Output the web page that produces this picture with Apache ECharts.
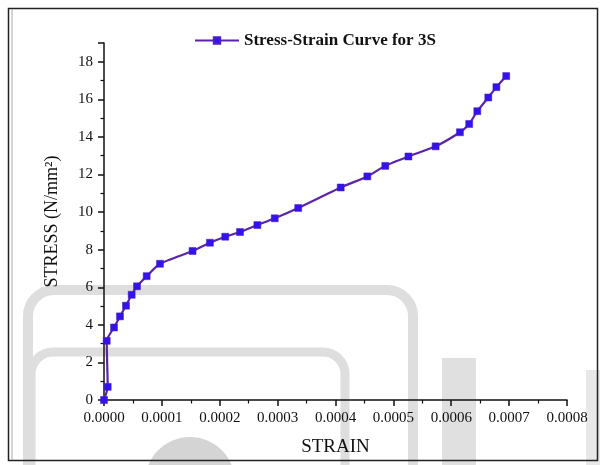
<!DOCTYPE html>
<html>
<head>
<meta charset="utf-8">
<script src="https://cdn.jsdelivr.net/npm/echarts@6/dist/echarts.min.js"></script>
<style>html,body{margin:0;padding:0;background:#fff}#c{width:603px;height:465px}</style>
</head>
<body>
<div id="c"></div>
<script>
// ---- data ----
var seriesName = 'Stress-Strain Curve for 3S';
var strain = [0, 0.0000064, 0.0000047, 0.0000173, 0.0000276, 0.000038, 0.0000478, 0.000057, 0.0000737, 0.0000967,
  0.000153, 0.000183, 0.0002095, 0.000235, 0.000265, 0.000295, 0.0003356, 0.000409, 0.000455, 0.000486,
  0.000526, 0.000573, 0.000615, 0.000631, 0.000645, 0.000664, 0.000678, 0.000695];
var stress = [0, 0.7, 3.15, 3.86, 4.45, 5.02, 5.6, 6.05, 6.59, 7.25,
  7.93, 8.37, 8.69, 8.94, 9.31, 9.67, 10.22, 11.31, 11.9, 12.46,
  12.96, 13.5, 14.25, 14.69, 15.37, 16.1, 16.65, 17.24];
var xTickLabels = ['0.0000','0.0001','0.0002','0.0003','0.0004','0.0005','0.0006','0.0007','0.0008'];
var yTickLabels = ['0','2','4','6','8','10','12','14','16','18'];
var xAxisName = 'STRAIN';
var yAxisName = 'STRESS (N/mm\u00B2)';

var points = strain.map(function (s, i) { return [s, stress[i]]; });
var serif = '"Liberation Serif", "Times New Roman", serif';
var wm = '#dedede';

var chart = echarts.init(document.getElementById('c'), null, {renderer: 'canvas'});
chart.setOption({
  backgroundColor: '#fff',
  animation: false,
  graphic: [
    {type: 'rect', z: -100, silent: true, shape: {x: 28, y: 290, width: 385, height: 260, r: 26}, style: {fill: 'none', stroke: wm, lineWidth: 10}},
    {type: 'rect', z: -100, silent: true, shape: {x: 31, y: 352, width: 314, height: 200, r: 22}, style: {fill: 'none', stroke: wm, lineWidth: 9}},
    {type: 'rect', z: -100, silent: true, shape: {x: 442, y: 358, width: 34, height: 110}, style: {fill: '#e0e0e0'}},
    {type: 'rect', z: -100, silent: true, shape: {x: 586, y: 370, width: 14, height: 100}, style: {fill: '#e8e8e8'}},
    {type: 'sector', z: -100, silent: true, shape: {cx: 190, cy: 482, r0: 0, r: 45, startAngle: Math.PI, endAngle: 2 * Math.PI}, style: {fill: '#d4d4d4'}},
    {type: 'rect', z: 100, silent: true, shape: {x: 8.5, y: 8.5, width: 589, height: 452}, style: {fill: 'none', stroke: '#222', lineWidth: 1.5}},
    {type: 'line', z: 100, silent: true, shape: {x1: 12, y1: 9, x2: 12, y2: 460}, style: {stroke: '#aaa', lineWidth: 1}}
  ],
  legend: {
    top: 27,
    left: 189,
    itemWidth: 44,
    itemHeight: 8,
    itemGap: 4,
    textStyle: {fontFamily: serif, fontSize: 17, fontWeight: 'bold', color: '#111'},
    data: [seriesName]
  },
  grid: {left: 104, right: 36, top: 43, bottom: 65, containLabel: false},
  xAxis: {
    type: 'value',
    min: 0, max: 0.0008, interval: 0.0001,
    name: xAxisName, nameLocation: 'middle', nameGap: 38,
    nameTextStyle: {fontFamily: serif, fontSize: 19, color: '#111'},
    splitLine: {show: false},
    axisLine: {show: true, onZero: false, lineStyle: {color: '#111', width: 1.5}},
    axisTick: {show: true, inside: false, length: 6, lineStyle: {color: '#111', width: 1.5}},
    minorTick: {show: true, splitNumber: 2, length: 3.5, lineStyle: {color: '#111', width: 1.2}},
    axisLabel: {
      margin: 11, fontFamily: serif, fontSize: 15, color: '#111',
      formatter: function (v) { var i = Math.round(v / 0.0001); return xTickLabels[i] || ''; }
    }
  },
  yAxis: {
    type: 'value',
    min: 0, max: 19, interval: 2,
    name: yAxisName, nameLocation: 'middle', nameGap: 43, nameRotate: 90,
    nameTextStyle: {fontFamily: serif, fontSize: 18, color: '#111'},
    splitLine: {show: false},
    axisLine: {show: true, onZero: false, lineStyle: {color: '#111', width: 1.5}},
    axisTick: {show: true, inside: false, length: 6, lineStyle: {color: '#111', width: 1.5}},
    minorTick: {show: true, splitNumber: 2, length: 3.5, lineStyle: {color: '#111', width: 1.2}},
    axisLabel: {
      margin: 11, fontFamily: serif, fontSize: 15, color: '#111',
      formatter: function (v) { var i = Math.round(v / 2); return (v % 2 === 0 && yTickLabels[i]) ? yTickLabels[i] : ''; }
    }
  },
  series: [{
    name: seriesName,
    type: 'line',
    data: points,
    smooth: 0.2,
    symbol: 'rect',
    symbolSize: 7,
    lineStyle: {color: '#5a25a8', width: 2.2},
    itemStyle: {color: '#3412ea', borderColor: '#4a20c8', borderWidth: 0.5},
    z: 5
  }]
});
</script>
</body>
</html>
